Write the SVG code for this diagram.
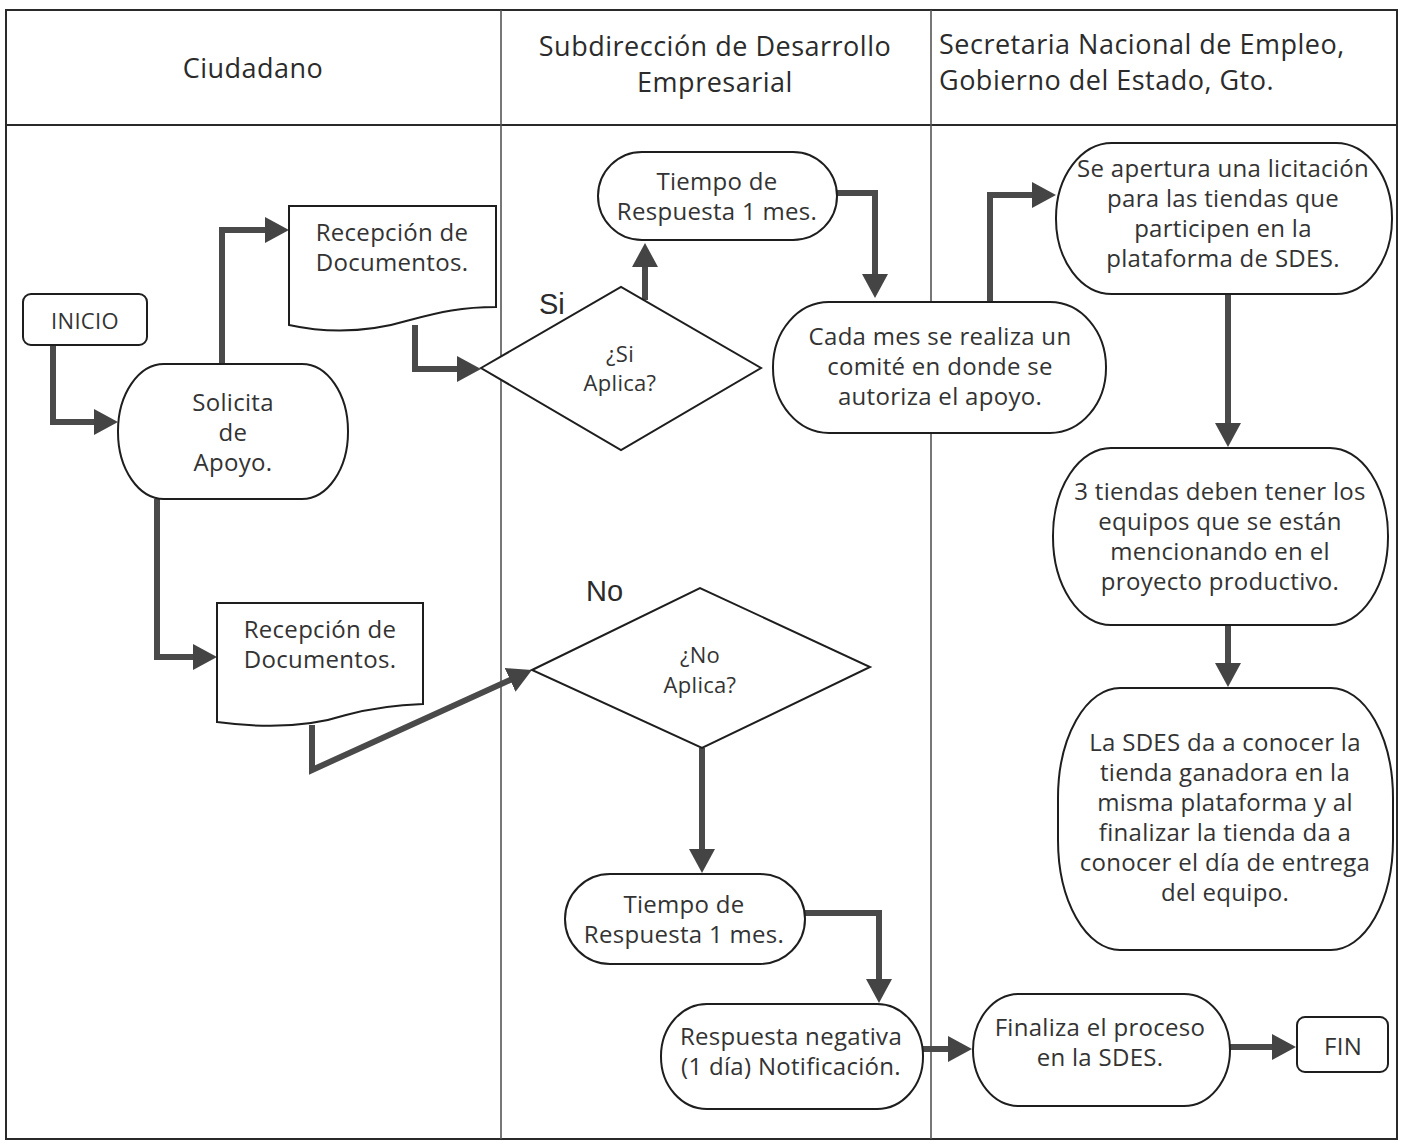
<svg xmlns="http://www.w3.org/2000/svg" width="1401" height="1144" viewBox="0 0 1401 1144">
  <style>
    .grid { fill: none; stroke: #2a2a2a; stroke-width: 2; }
    .lane { fill: none; stroke: #555; stroke-width: 1.6; }
    .head { font-family: "Open Sans", "Liberation Sans", sans-serif; font-size: 27px; letter-spacing: 0.5px; fill: #2b2b2b; }
    .shape { fill: #fff; stroke: #1e1e1e; stroke-width: 2; }
    .txt { font-family: "Open Sans", "Liberation Sans", sans-serif; font-size: 24px; letter-spacing: 0.3px; fill: #333; text-anchor: middle; }
    .lbl { font-family: "Liberation Sans", Arial, sans-serif; font-size: 29px; fill: #2b2b2b; }
    .conn { fill: none; stroke: #4a4a4a; stroke-width: 6; stroke-linejoin: miter; }
  </style>
  <defs>
    <marker id="arrow" markerUnits="userSpaceOnUse" viewBox="0 0 24 26" markerWidth="24" markerHeight="26" refX="16" refY="13" orient="auto">
      <path d="M0,0 L24,13 L0,26 Z" fill="#444"/>
    </marker>
  </defs>

  <rect width="1401" height="1144" fill="#fff"/>

  <!-- swimlane table -->
  <g id="table">
    <rect class="grid" x="6" y="10" width="1391" height="1129"/>
    <line class="grid" x1="6" y1="125" x2="1397" y2="125"/>
    <line class="lane" x1="501" y1="10" x2="501" y2="1139"/>
    <line class="lane" x1="931" y1="10" x2="931" y2="1139"/>
    <text class="head" x="253" y="78" text-anchor="middle">Ciudadano</text>
    <text class="head" x="715" y="56" text-anchor="middle">Subdirección de Desarrollo</text>
    <text class="head" x="715" y="92" text-anchor="middle">Empresarial</text>
    <text class="head" x="939" y="54">Secretaria Nacional de Empleo,</text>
    <text class="head" x="939" y="90">Gobierno del Estado, Gto.</text>
  </g>

  <!-- connectors -->
  <g id="connectors">
    <path class="conn" d="M53,345 V422 H110" marker-end="url(#arrow)"/>
    <path class="conn" d="M222,364 V230 H281" marker-end="url(#arrow)"/>
    <path class="conn" d="M415,325 V369 H473" marker-end="url(#arrow)"/>
    <path class="conn" d="M645,300 V251" marker-end="url(#arrow)"/>
    <path class="conn" d="M837,193 H875 V290" marker-end="url(#arrow)"/>
    <path class="conn" d="M990,302 V195 H1048" marker-end="url(#arrow)"/>
    <path class="conn" d="M1228,294 V439" marker-end="url(#arrow)"/>
    <path class="conn" d="M1228,625 V679" marker-end="url(#arrow)"/>
    <path class="conn" d="M157,499 V657 H209" marker-end="url(#arrow)"/>
    <path class="conn" d="M312,725 V770 L524.7,673.3" marker-end="url(#arrow)"/>
    <path class="conn" d="M702,748 V865" marker-end="url(#arrow)"/>
    <path class="conn" d="M805,913 H879 V995" marker-end="url(#arrow)"/>
    <path class="conn" d="M923,1049 H964" marker-end="url(#arrow)"/>
    <path class="conn" d="M1230,1047 H1288" marker-end="url(#arrow)"/>
  </g>

  <!-- Ciudadano lane -->
  <g id="inicio">
    <rect class="shape" x="23" y="294" width="124" height="51" rx="8"/>
    <text class="txt" x="85" y="329" style="font-size:22px">INICIO</text>
  </g>
  <g id="solicita">
    <rect class="shape" x="118" y="364" width="230" height="135" rx="46" ry="67"/>
    <text class="txt" x="233" y="411">Solicita</text>
    <text class="txt" x="233" y="441">de</text>
    <text class="txt" x="233" y="471">Apoyo.</text>
  </g>
  <g id="recepcion1">
    <path class="shape" d="M289,206 H496 V307 C462,307 440,312 410,320 C370,332 330,334 289,325 Z"/>
    <text class="txt" x="392" y="241">Recepción de</text>
    <text class="txt" x="392" y="271">Documentos.</text>
  </g>
  <g id="recepcion2">
    <path class="shape" d="M217,603 H423 V704 C392,705 372,708 346,715 C306,728 262,728 217,722 Z"/>
    <text class="txt" x="320" y="638">Recepción de</text>
    <text class="txt" x="320" y="668">Documentos.</text>
  </g>

  <!-- Subdirección lane -->
  <g id="si-aplica">
    <path class="shape" d="M481,368 L621,287 L761,368 L621,450 Z"/>
    <text class="txt" x="620" y="362" style="font-size:22px">¿Si</text>
    <text class="txt" x="620" y="391" style="font-size:22px">Aplica?</text>
    <text class="lbl" x="539" y="314">Si</text>
  </g>
  <g id="tiempo1">
    <rect class="shape" x="598" y="152" width="239" height="88" rx="44" ry="44"/>
    <text class="txt" x="717" y="190">Tiempo de</text>
    <text class="txt" x="717" y="220">Respuesta 1 mes.</text>
  </g>
  <g id="no-aplica">
    <path class="shape" d="M532,670 L700,588 L870,667 L702,748 Z"/>
    <text class="txt" x="700" y="663" style="font-size:22px">¿No</text>
    <text class="txt" x="700" y="693" style="font-size:22px">Aplica?</text>
    <text class="lbl" x="586" y="601">No</text>
  </g>
  <g id="tiempo2">
    <rect class="shape" x="565" y="874" width="240" height="90" rx="45" ry="45"/>
    <text class="txt" x="684" y="913">Tiempo de</text>
    <text class="txt" x="684" y="943">Respuesta 1 mes.</text>
  </g>
  <g id="respuesta">
    <rect class="shape" x="661" y="1004" width="262" height="105" rx="46" ry="52"/>
    <text class="txt" x="791" y="1045">Respuesta negativa</text>
    <text class="txt" x="791" y="1075">(1 día) Notificación.</text>
  </g>
  <g id="comite">
    <rect class="shape" x="773" y="302" width="333" height="131" rx="56" ry="65"/>
    <text class="txt" x="940" y="345">Cada mes se realiza un</text>
    <text class="txt" x="940" y="375">comité en donde se</text>
    <text class="txt" x="940" y="405">autoriza el apoyo.</text>
  </g>

  <!-- Secretaría lane -->
  <g id="licitacion">
    <rect class="shape" x="1056" y="143" width="336" height="151" rx="56" ry="75"/>
    <text class="txt" x="1223" y="177">Se apertura una licitación</text>
    <text class="txt" x="1223" y="207">para las tiendas que</text>
    <text class="txt" x="1223" y="237">participen en la</text>
    <text class="txt" x="1223" y="267">plataforma de SDES.</text>
  </g>
  <g id="tiendas">
    <rect class="shape" x="1053" y="448" width="335" height="177" rx="58" ry="88"/>
    <text class="txt" x="1220" y="500">3 tiendas deben tener los</text>
    <text class="txt" x="1220" y="530">equipos que se están</text>
    <text class="txt" x="1220" y="560">mencionando en el</text>
    <text class="txt" x="1220" y="590">proyecto productivo.</text>
  </g>
  <g id="ganadora">
    <rect class="shape" x="1058" y="688" width="335" height="262" rx="62" ry="110"/>
    <text class="txt" x="1225" y="751">La SDES da a conocer la</text>
    <text class="txt" x="1225" y="781">tienda ganadora en la</text>
    <text class="txt" x="1225" y="811">misma plataforma y al</text>
    <text class="txt" x="1225" y="841">finalizar la tienda da a</text>
    <text class="txt" x="1225" y="871">conocer el día de entrega</text>
    <text class="txt" x="1225" y="901">del equipo.</text>
  </g>
  <g id="finaliza">
    <rect class="shape" x="973" y="994" width="257" height="112" rx="46" ry="56"/>
    <text class="txt" x="1100" y="1036">Finaliza el proceso</text>
    <text class="txt" x="1100" y="1066">en la SDES.</text>
  </g>
  <g id="fin">
    <rect class="shape" x="1297" y="1017" width="91" height="55" rx="8"/>
    <text class="txt" x="1343" y="1055">FIN</text>
  </g>
</svg>
